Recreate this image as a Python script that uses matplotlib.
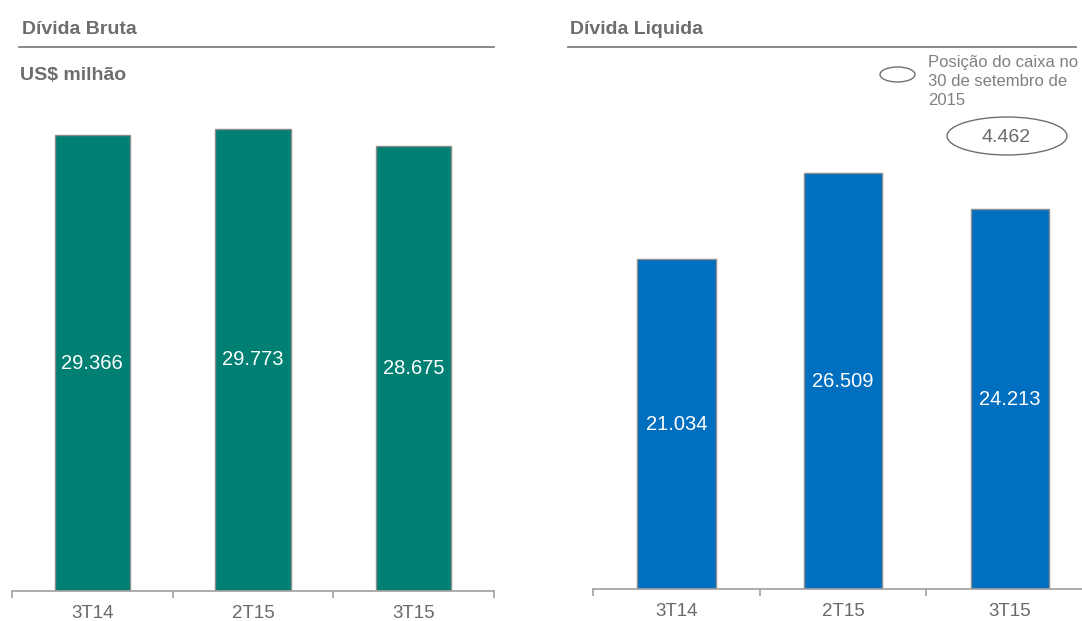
import matplotlib.pyplot as plt
from matplotlib.patches import Ellipse

plt.rcParams['font.family'] = ['Liberation Sans', 'DejaVu Sans']

categories = ['3T14', '2T15', '3T15']
divida_bruta = [29366, 29773, 28675]
divida_liquida = [21034, 26509, 24213]
caixa = '4.462'

teal = '#007f73'
blue = '#006fc0'
grey_txt = '#6d6d6d'
W, H = 1082, 621

fig = plt.figure(figsize=(W / 100, H / 100), dpi=100)


def fx(px):
    return px / W


def fy(py):
    return 1 - py / H


def panel(left, right, base, scale, values, color, labels):
    ax = fig.add_axes([fx(left), fy(base), fx(right - left), (base - 100) / H])
    x = range(len(values))
    ax.bar(x, values, width=0.47, color=color, edgecolor='#8c8c8c', linewidth=1)
    for i, v in zip(x, values):
        ax.text(i, v / 2, labels[i], ha='center', va='center', color='white', fontsize=14.5)
    ax.set_xlim(-0.5, 2.5)
    ax.set_ylim(0, (base - 100) * scale)
    for s in ['top', 'left', 'right']:
        ax.spines[s].set_visible(False)
    ax.spines['bottom'].set_color('#a0a0a0')
    ax.spines['bottom'].set_linewidth(1.2)
    ax.set_yticks([])
    ax.set_xticks(list(x))
    ax.set_xticklabels(categories, fontsize=13.5, color='#6a6a6a')
    ax.tick_params(axis='x', which='major', length=0, pad=10)
    ax.set_xticks([-0.5, 0.5, 1.5, 2.5], minor=True)
    ax.tick_params(axis='x', which='minor', length=5, color='#a0a0a0', width=1.2)
    return ax


fmt = lambda v: f'{v / 1000:.3f}'
panel(12, 494, 591, 64.4, divida_bruta, teal, [fmt(v) for v in divida_bruta])
panel(593, 1093, 589, 63.8, divida_liquida, blue, [fmt(v) for v in divida_liquida])

# titles with underline
fig.text(fx(22), fy(30), 'Dívida Bruta', fontsize=14, fontweight='bold', color=grey_txt, va='center')
fig.text(fx(570), fy(30), 'Dívida Liquida', fontsize=14, fontweight='bold', color=grey_txt, va='center')
fig.add_artist(plt.Line2D([fx(19), fx(494)], [fy(47), fy(47)], color='#808080', lw=1.3))
fig.add_artist(plt.Line2D([fx(568), fx(1076)], [fy(47), fy(47)], color='#808080', lw=1.3))
fig.text(fx(20), fy(75), 'US$ milhão', fontsize=14, fontweight='bold', color=grey_txt, va='center')

# legend for cash position
fig.add_artist(Ellipse((fx(897.5), fy(74.5)), fx(35), 15 / H, fill=False, edgecolor='#707070', lw=1))
fig.text(fx(928), fy(55), 'Posição do caixa no\n30 de setembro de\n2015', fontsize=12,
         color='#808080', va='top', ha='left', linespacing=1.32)
fig.add_artist(Ellipse((fx(1007), fy(136)), fx(120), 38 / H, fill=False, edgecolor='#707070', lw=1))
fig.text(fx(1006), fy(137), caixa, fontsize=14, color='#6a6a6a', ha='center', va='center')

fig.savefig('out.png', dpi=100)
